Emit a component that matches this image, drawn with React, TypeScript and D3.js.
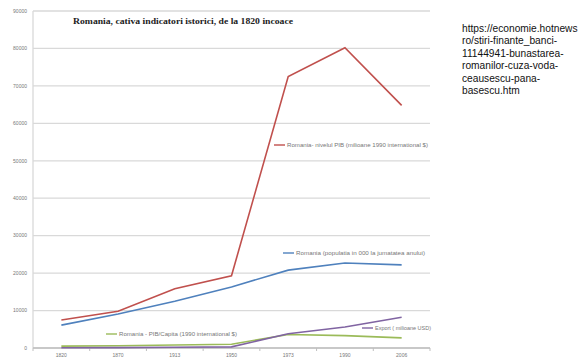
import React from "react";
import * as d3 from "d3";

const years = ["1820", "1870", "1913", "1950", "1973", "1990", "2006"];
const pibTotal = [7500, 9800, 15800, 19300, 72500, 80200, 64800];
const populatie = [6100, 9100, 12500, 16300, 20800, 22700, 22200];
const pibCapita = [500, 600, 800, 1000, 3600, 3300, 2700];
const exportUsd = [50, 100, 200, 300, 3800, 5600, 8200];
const yTicks = [0, 10000, 20000, 30000, 40000, 50000, 60000, 70000, 80000, 90000];
const sourceLines = [
  "https://economie.hotnews",
  "ro/stiri-finante_banci-",
  "11144941-bunastarea-",
  "romanilor-cuza-voda-",
  "ceausescu-pana-",
  "basescu.htm",
];

const series = [
  { name: "Romania- nivelul PIB (milioane 1990 international $)", values: pibTotal, color: "#c0504d", lx: 274, ly: 145, tl: 141 },
  { name: "Romania (populatia in 000 la jumatatea anului)", values: populatie, color: "#4f81bd", lx: 283, ly: 253, tl: 129 },
  { name: "Romania - PIB/Capita (1990 international $)", values: pibCapita, color: "#9bbb59", lx: 106, ly: 334, tl: 118 },
  { name: "Export ( milioane USD)", values: exportUsd, color: "#8064a2", lx: 362, ly: 328, tl: 56 },
];

export default function App() {
  const W = 579, H = 358;
  const left = 33, right = 430, top = 11, bottom = 348;
  const x = d3.scaleBand<string>().domain(years).range([left, right]);
  const y = d3.scaleLinear().domain([0, 90000]).range([bottom, top]);
  const line = d3
    .line<number>()
    .x((_, i) => (x(years[i]) as number) + x.bandwidth() / 2)
    .y((d) => y(d));
  const tickXs = years.map((yr) => x(yr) as number).concat([right]);
  const drawOrder = [series[2], series[3], series[1], series[0]];

  return (
    <svg width={W} height={H} style={{ position: "absolute", left: 0, top: 0, background: "#fff" }}>
      {yTicks.map((t) => (
        <g key={t}>
          <line x1={left} x2={right} y1={y(t)} y2={y(t)} stroke="#d9d9d9" strokeWidth={1.3} />
          <text x={27} y={y(t) + 1.8} fontSize={5} textAnchor="end" fill="#777" fontFamily="Liberation Sans, Arial">
            {t}
          </text>
        </g>
      ))}
      <line x1={left} x2={left} y1={top} y2={bottom} stroke="#d9d9d9" strokeWidth={1.3} />
      <line x1={left} x2={right} y1={bottom} y2={bottom} stroke="#bfbfbf" strokeWidth={1.3} />
      {tickXs.map((tx, i) => (
        <line key={i} x1={tx} x2={tx} y1={bottom} y2={bottom + 3} stroke="#bfbfbf" strokeWidth={1} />
      ))}
      {years.map((yr) => (
        <text
          key={yr}
          x={(x(yr) as number) + x.bandwidth() / 2}
          y={357}
          fontSize={5}
          textAnchor="middle"
          fill="#777"
          fontFamily="Liberation Sans, Arial"
        >
          {yr}
        </text>
      ))}
      <text
        x={73}
        y={24}
        fontSize={8.5}
        fontWeight="bold"
        fontFamily="Liberation Serif, Times New Roman, serif"
        fill="#222"
        textLength={220}
        lengthAdjust="spacingAndGlyphs"
      >
        Romania, cativa indicatori istorici, de la  1820 incoace
      </text>
      {drawOrder.map((s) => (
        <path key={s.name} d={line(s.values) || ""} fill="none" stroke={s.color} strokeWidth={1.6} />
      ))}
      {series.map((s) => (
        <g key={s.name + "-lg"}>
          <line x1={s.lx} x2={s.lx + 11} y1={s.ly} y2={s.ly} stroke={s.color} strokeWidth={1.4} />
          <text
            x={s.lx + 13}
            y={s.ly + 1.8}
            fontSize={5.2}
            fill="#777"
            fontFamily="Liberation Sans, Arial"
            textLength={s.tl}
            lengthAdjust="spacingAndGlyphs"
          >
            {s.name}
          </text>
        </g>
      ))}
      {sourceLines.map((l, i) => (
        <text key={i} x={462} y={32 + i * 12.4} fontSize={10.2} fill="#111" fontFamily="Liberation Sans, Open Sans, Arial">
          {l}
        </text>
      ))}
    </svg>
  );
}
